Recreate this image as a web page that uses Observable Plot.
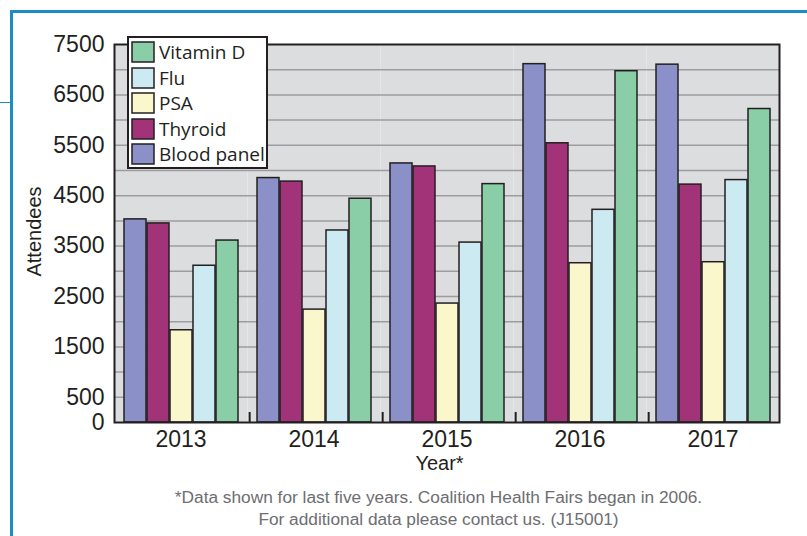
<!DOCTYPE html>
<html><head><meta charset="utf-8">
<script src="https://cdn.jsdelivr.net/npm/d3@7"></script>
<script src="https://cdn.jsdelivr.net/npm/@observablehq/plot@0.6"></script>
<style>
html,body{margin:0;padding:0;background:#fff;}
#page{position:relative;width:807px;height:536px;overflow:hidden;font-family:"Liberation Sans",Arial,sans-serif;}
#chart{position:absolute;left:0;top:0;}
.blue{position:absolute;background:#1b8cc4;}
#legend{position:absolute;left:127px;top:36px;width:137px;height:129px;background:#fff;border:2px solid #231f20;}
#legend .lg-swatches{font-family:"Open Sans",sans-serif;font-size:19px;color:#231f20;margin:0;padding:1.25px 0 0 3px;}
#legend .lg-swatch{padding-bottom:0;height:25.5px;margin:0;display:flex;align-items:center;}
#legend .lg-swatch svg{margin-right:5px;overflow:visible;flex-shrink:0;}
#legend .lg-swatch rect{stroke:#231f20;stroke-width:1.5px;}
#caption{position:absolute;left:80px;width:717px;top:486px;text-align:center;color:#6d6e71;font-size:17.3px;line-height:22px;}
</style></head>
<body>
<div id="page">
  <div class="blue" style="left:10px;top:10px;width:797px;height:2.5px"></div>
  <div class="blue" style="left:10px;top:10px;width:2.5px;height:526px"></div>
  <div class="blue" style="left:0;top:101.5px;width:11px;height:1.2px"></div>
  <div id="chart"></div>
  <div id="legend"></div>
  <div id="caption">*Data shown for last five years. Coalition Health Fairs began in 2006.<br>For additional data please contact us. (J15001)</div>
</div>
<script>
// ---- data ----
const years = [2013, 2014, 2015, 2016, 2017];
const barOrder = ["Blood panel", "Thyroid", "PSA", "Flu", "Vitamin D"];
const legendOrder = ["Vitamin D", "Flu", "PSA", "Thyroid", "Blood panel"];
const legendColors = ["#89cea6", "#cceaf1", "#faf7cd", "#a33378", "#8b90c8"];
const bloodPanel = [4030, 4850, 5140, 7110, 7100];
const thyroid    = [3950, 4780, 5080, 5540, 4720];
const psa        = [1830, 2240, 2360, 3160, 3180];
const flu        = [3110, 3810, 3570, 4220, 4810];
const vitaminD   = [3610, 4440, 4730, 6970, 6220];
const yTickValues = [0, 500, 1500, 2500, 3500, 4500, 5500, 6500, 7500];
const gridValues = [500, 1000, 1500, 2000, 2500, 3000, 3500, 4000, 4500, 5000, 5500, 6000, 6500, 7000];
const yLabel = "Attendees";
const xLabel = "Year*";

const seriesValues = {"Blood panel": bloodPanel, "Thyroid": thyroid, "PSA": psa, "Flu": flu, "Vitamin D": vitaminD};
const data = barOrder.flatMap(s => years.map((yr, i) => ({year: yr, series: s, value: seriesValues[s][i]})));

// ---- layout ----
const W = 807, H = 480, mL = 114, mR = 28, mT = 44, mB = 58;
const padIn = 0.05, padOut = 0.315;
const facetW = (W - mL - mR) / years.length;
const step = facetW / (barOrder.length - padIn + 2 * padOut);
const bw = step * (1 - padIn);
const ink = "#231f20";

const chart = Plot.plot({
  width: W, height: H,
  marginLeft: mL, marginRight: mR, marginTop: mT, marginBottom: mB,
  style: {fontFamily: "'Liberation Sans', Arial, sans-serif", color: ink, background: "transparent", overflow: "visible"},
  fx: {domain: years, padding: 0, axis: null},
  x: {domain: barOrder, paddingInner: padIn, paddingOuter: padOut, axis: null},
  y: {domain: [0, 7500], axis: null},
  color: {domain: legendOrder, range: legendColors},
  marks: [
    Plot.frame({fill: "#dcdddf", stroke: "none"}),
    Plot.ruleY(gridValues, {stroke: "#9d9d9f", strokeWidth: 1.5}),
    Plot.barY(data, {fx: "year", x: "series", y: "value", fill: "series", stroke: ink, strokeWidth: 1.5}),
    Plot.ruleX(data.filter(d => d.series === barOrder[0] && d.year !== years[0]),
      {fx: "year", x: "series", dx: -(bw / 2 + padOut * step), insetTop: (H - mT - mB) - 10, stroke: ink, strokeWidth: 2}),
    Plot.frame({stroke: ink, strokeWidth: 2, facet: "super"}),
    Plot.axisY({ticks: yTickValues, tickSize: 0, tickPadding: 10, fontSize: 23, label: null, tickFormat: d => String(d)}),
    Plot.axisFx({anchor: "bottom", tickSize: 0, tickPadding: 8, fontSize: 23, label: null, tickFormat: d => String(d)}),
    Plot.text([{t: yLabel, year: years[0]}], {fx: "year", text: "t", frameAnchor: "left", textAnchor: "middle", rotate: -90, dx: -80, dy: -2, fontSize: 20, lineAnchor: "middle"}),
    Plot.text([{t: xLabel, year: years[2]}], {fx: "year", text: "t", frameAnchor: "bottom", textAnchor: "middle", dy: 41, dx: -7.5, fontSize: 20, lineAnchor: "middle"})
  ]
});
document.getElementById("chart").append(chart);

const legend = Plot.legend({color: {domain: legendOrder, range: legendColors}, columns: 1, swatchWidth: 22, swatchHeight: 20, className: "lg"});
document.getElementById("legend").append(legend);
</script>
</body></html>
